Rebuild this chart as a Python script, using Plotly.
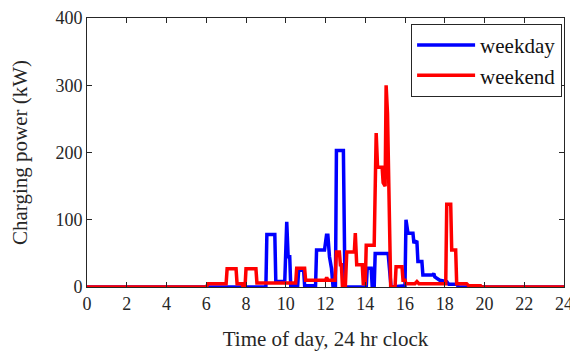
import plotly.graph_objects as go

# Weekday (blue) breakpoints: hour, kW
weekday_t = [0, 9.0, 9.05, 9.45, 9.5, 9.95, 10.05, 10.12, 10.2, 10.25, 10.6, 10.65, 10.9, 10.95,
             11.5, 11.55, 11.95, 12.05, 12.12, 12.2, 12.3, 12.38, 12.5, 12.55, 12.9, 12.98,
             14.05, 14.1, 14.3, 14.35, 14.45, 14.5, 15.15, 15.3, 16.0, 16.05, 16.15, 16.4, 16.45,
             16.5, 16.6, 16.65, 16.85, 16.9, 17.4, 17.45, 17.5, 17.7, 17.75, 18.1, 18.2, 18.6, 18.7, 24]
weekday_p = [0, 0, 78, 78, 8, 8, 97, 45, 45, 2, 2, 25, 25, 2,
             2, 55, 55, 77, 77, 45, 28, 0, 0, 203, 203, 0,
             0, 28, 28, 0, 0, 50, 50, 0, 2, 100, 80, 80, 65,
             68, 67, 38, 38, 18, 18, 20, 15, 12, 10, 8, 4, 4, 0, 0]

# Weekend (red) breakpoints: hour, kW
weekend_t = [0, 6.0, 6.1, 7.0, 7.05, 7.5, 7.55, 7.8, 7.85, 7.95, 8.0, 8.5, 8.55, 10.5, 10.55, 10.95,
             11.0, 12.0, 12.06, 12.12, 12.48, 12.55, 12.7, 12.75, 12.8, 12.85, 13.0, 13.07, 13.45,
             13.5, 13.57, 13.85, 13.9, 14.0, 14.05, 14.45, 14.55, 14.62, 14.85, 14.9, 15.0, 15.05,
             15.12, 15.2, 15.28, 15.5, 15.55, 15.85, 15.9, 16.0, 16.05, 16.5, 16.6, 16.7, 18.05,
             18.1, 18.3, 18.35, 18.55, 18.6, 19.1, 19.2, 19.8, 19.85, 24]
weekend_p = [0, 0, 5, 5, 27, 27, 5, 5, 0, 0, 27, 27, 6, 6, 28, 28,
             10, 10, 14, 10, 10, 52, 52, 33, 33, 2, 2, 52, 52,
             80, 33, 33, 5, 5, 62, 62, 229, 178, 178, 155, 150, 300,
             258, 150, 0, 0, 30, 30, 10, 10, 5, 5, 8, 5, 5,
             123, 123, 55, 55, 5, 5, 2, 2, 0, 0]

x_ticks = list(range(0, 25, 2))
y_ticks = [0, 100, 200, 300, 400]

font_family = "Liberation Serif, Times New Roman, serif"

fig = go.Figure()
fig.add_trace(go.Scatter(x=weekday_t, y=weekday_p, mode="lines", name="weekday",
                         line=dict(color="#0000FF", width=3.5)))
fig.add_trace(go.Scatter(x=weekend_t, y=weekend_p, mode="lines", name="weekend",
                         line=dict(color="#FF0000", width=3.5)))

axis_common = dict(showline=True, linecolor="#262626", linewidth=1, mirror="ticks",
                   ticks="inside", ticklen=5, tickcolor="#262626", showgrid=False,
                   zeroline=False, automargin=False,
                   tickfont=dict(family=font_family, size=18, color="#262626"))

fig.update_xaxes(range=[0, 24], tickvals=x_ticks, ticktext=[str(v) for v in x_ticks],
                 title=dict(text="Time of day, 24 hr clock", font=dict(family=font_family, size=21, color="#262626"),
                            standoff=18),
                 **axis_common)
fig.update_yaxes(range=[0, 400], tickvals=y_ticks, ticktext=[str(v) for v in y_ticks],
                 title=dict(text="Charging power (kW)", font=dict(family=font_family, size=21, color="#262626"),
                            standoff=22),
                 **axis_common)

fig.update_layout(
    width=570, height=343,
    margin=dict(l=79, r=14, t=10, b=64),
    paper_bgcolor="white", plot_bgcolor="white",
    showlegend=True,
    legend=dict(x=0.996, y=0.978, xanchor="right", yanchor="top",
                bordercolor="#262626", borderwidth=1, bgcolor="white",
                font=dict(family=font_family, size=21, color="#111111"),
                itemwidth=58, tracegroupgap=0),
)

fig.write_html("out.html")
